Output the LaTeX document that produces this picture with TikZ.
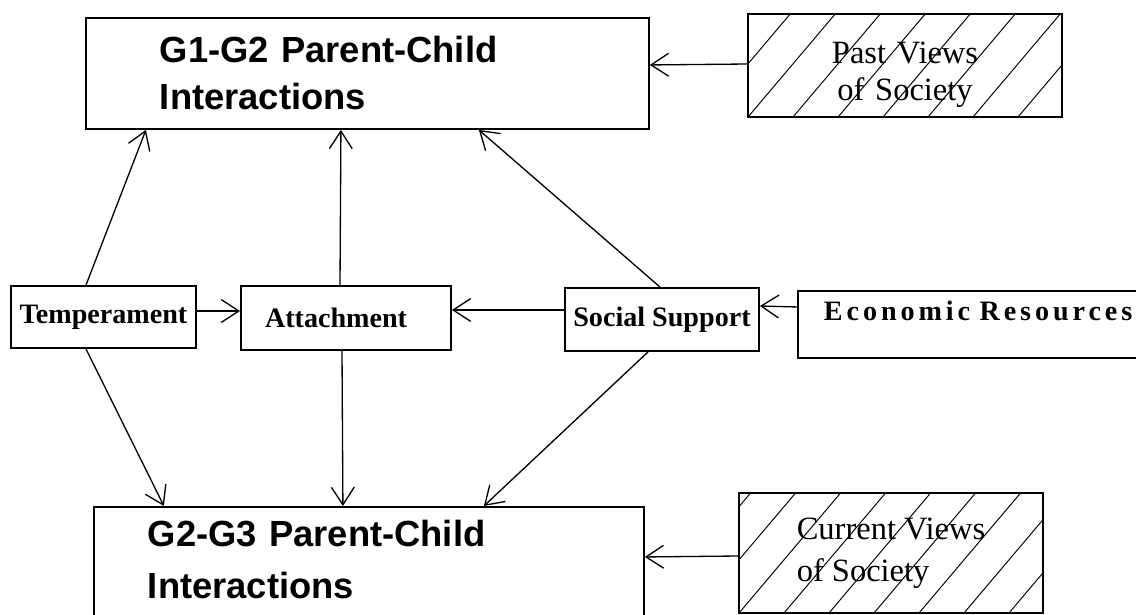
\documentclass[tikz,border=0pt]{standalone}
\usepackage{fontspec}
\setmainfont{Liberation Serif}
\newfontfamily\arialfont{Liberation Sans}
\usepackage{tikz}
\usetikzlibrary{arrows.meta,positioning,calc}
\tikzset{
    genbox/.style={rectangle, draw, line width=1.1pt, inner ysep=0pt, align=left,
                   font=\arialfont\bfseries\fontsize{20.7}{26.7}\selectfont},
    factor/.style={rectangle, draw, line width=1.1pt, inner sep=0pt, align=center,
                   font=\bfseries\fontsize{16}{19}\selectfont},
    hatched/.style={path picture={
        \foreach \k in {-3,...,8}
            \draw[line width=0.55pt] ($(path picture bounding box.south west)+(\k*45,0)$) -- ++(110,-130);}},
    views/.style={rectangle, draw, line width=1.1pt, inner sep=0pt, hatched,
                  font=\fontsize{18.5}{21}\selectfont},
    line/.style={draw, line width=0.75pt, -{Straight Barb[length=10pt,width=13pt]}},
}

\begin{document}
\begin{tikzpicture}[x=0.02cm, y=-0.02cm]
        \useasboundingbox (0,0) rectangle (1136,615);

        % Generations
        \node [genbox, anchor=north west, minimum width=11.26cm, minimum height=2.22cm,
               inner xsep=1.48cm, text width=8.3cm] (g12) at (85,17) {G1-G2 Parent-Child\\Interactions};
        \node [genbox, anchor=north west, minimum width=11cm, minimum height=2.28cm,
               inner xsep=1.08cm, text width=8.84cm, text depth=1.24cm,
               font=\arialfont\bfseries\fontsize{20.7}{29.6}\selectfont] (g23) at (93,506) {G2-G3 Parent-Child\\Interactions};

        % Views of society
        \node [views, align=center, minimum width=6.28cm, minimum height=2.06cm,
               text width=6.28cm, text depth=0.52cm] (past) at (905,65.5) {Past Views\\of Society};
        \node [views, align=left, minimum width=6.08cm, minimum height=2.4cm,
               font=\fontsize{18.5}{23.9}\selectfont] (curr) at (891,553) {Current Views\\of Society};

        % Factors
        \node [factor, minimum width=3.7cm, minimum height=1.24cm]  (temp) at (103.5,317) {Temperament};
        \node [factor, align=left, minimum width=4.2cm, minimum height=1.28cm,
               inner xsep=0.48cm, text width=3.24cm] (att) at (346,318) {Attachment};
        \node [factor, minimum width=3.88cm, minimum height=1.26cm] (soc)  at (662,319.5) {Social Support};
        \node [factor, anchor=north west, align=left, minimum height=1.34cm, inner xsep=0.52cm,
               text width=6.56cm, text depth=0.56cm,
               font=\bfseries\fontsize{16}{19}\selectfont\addfontfeature{LetterSpace=14}] (eco) at (797,290) {Economic Resources};

        % Arrows up
        \draw [line] ($(temp.north)+(-17.5,0)$) -- ($(g12.south)+(-221.5,0)$);
        \draw [line] ($(att.north)+(-6,0)$)     -- ($(g12.south)+(-26.5,0)$);
        \draw [line] ($(soc.north)+(-2,0)$)     -- ($(g12.south)+(111.5,0)$);

        % Arrows down
        \draw [line] ($(temp.south)+(-17.5,0)$) -- ($(g23.north)+(-205,0)$);
        \draw [line] ($(att.south)+(-4,0)$)     -- ($(g23.north)+(-26,0)$);
        \draw [line] ($(soc.south)+(-14,0)$)    -- ($(g23.north)+(115,0)$);

        % Across
        \draw [line] ($(temp.east)+(0,-6)$)  -- ($(att.west)+(0,-7)$);
        \draw [line] ($(soc.west)+(0,-9.5)$) -- ($(att.east)+(0,-8)$);
        \draw [line] ($(eco.west)+(0,-17.5)$) -- ($(soc.east)+(0,-13.5)$);
        \draw [line] ($(past.west)+(0,-1.5)$) -- ($(g12.east)+(0,-8.5)$);
        \draw [line] ($(curr.west)+(0,3)$)    -- ($(g23.east)+(0,-7)$);
    \end{tikzpicture}
\end{document}
